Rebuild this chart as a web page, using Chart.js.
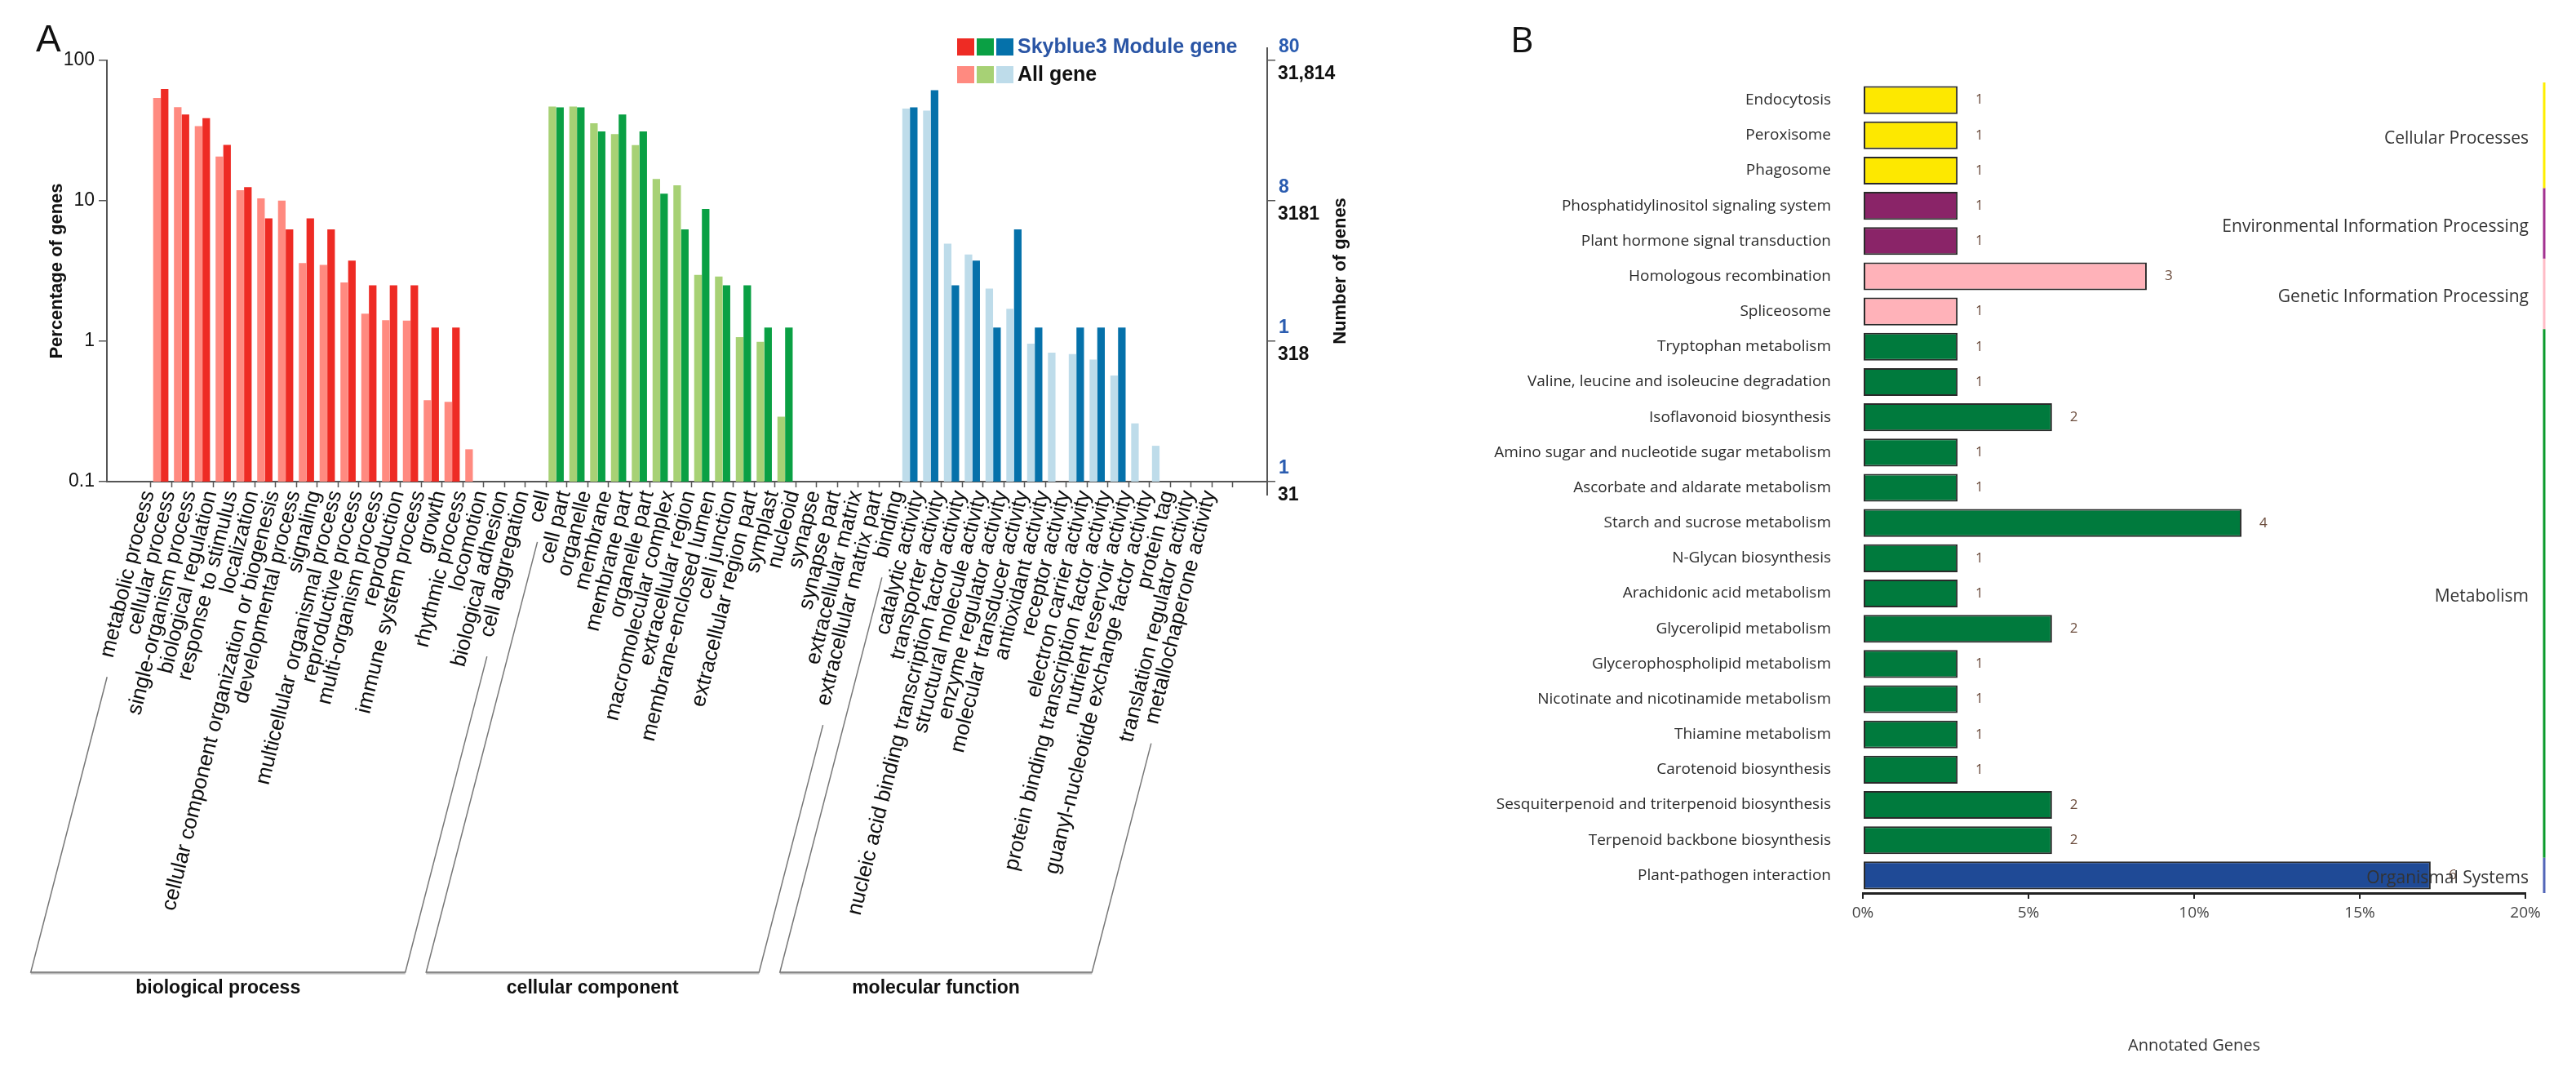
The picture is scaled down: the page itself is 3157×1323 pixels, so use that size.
<!DOCTYPE html>
<html>
<head>
<meta charset="utf-8">
<script src="https://cdn.jsdelivr.net/npm/chart.js@4.4.0/dist/chart.umd.min.js"></script>
<style>
html, body { margin: 0; padding: 0; background: #fff; }
#wrap { position: relative; width: 3157px; height: 1323px; overflow: hidden; }
#goChart { position: absolute; left: 0; top: 0; }
#keggChart { position: absolute; left: 1720px; top: 0; }
</style>
</head>
<body>
<div id="wrap">
  <canvas id="goChart" width="1720" height="1323"></canvas>
  <canvas id="keggChart" width="1437" height="1323"></canvas>
</div>
<script>
// ---- panel A : GO classification (percentage of genes, log scale) ----
var bpLabels = ['metabolic process', 'cellular process', 'single-organism process', 'biological regulation',
  'response to stimulus', 'localization', 'cellular component organization or biogenesis', 'developmental process',
  'signaling', 'multicellular organismal process', 'reproductive process', 'multi-organism process', 'reproduction',
  'immune system process', 'growth', 'rhythmic process', 'locomotion', 'biological adhesion', 'cell aggregation'];
var bpAll = [54, 46.4, 34, 20.7, 11.9, 10.4, 10.05, 3.6, 3.5, 2.62, 1.57, 1.41, 1.4, 0.38, 0.37, 0.17, null, null, null];
var bpModule = [62.5, 41.25, 38.75, 25, 12.5, 7.5, 6.25, 7.5, 6.25, 3.75, 2.5, 2.5, 2.5, 1.25, 1.25, null, null, null, null];

var ccLabels = ['cell', 'cell part', 'organelle', 'membrane', 'membrane part', 'organelle part', 'macromolecular complex',
  'extracellular region', 'membrane-enclosed lumen', 'cell junction', 'extracellular region part', 'symplast',
  'nucleoid', 'synapse', 'synapse part', 'extracellular matrix', 'extracellular matrix part'];
var ccAll = [46.9, 47, 35.7, 29.9, 24.9, 14.3, 12.9, 2.97, 2.89, 1.07, 0.99, 0.29, null, null, null, null, null];
var ccModule = [46.25, 46.25, 31.25, 41.25, 31.25, 11.25, 6.25, 8.75, 2.5, 2.5, 1.25, 1.25, null, null, null, null, null];

var mfLabels = ['binding', 'catalytic activity', 'transporter activity', 'nucleic acid binding transcription factor activity',
  'structural molecule activity', 'enzyme regulator activity', 'molecular transducer activity', 'antioxidant activity',
  'receptor activity', 'electron carrier activity', 'protein binding transcription factor activity',
  'nutrient reservoir activity', 'guanyl-nucleotide exchange factor activity', 'protein tag',
  'translation regulator activity', 'metallochaperone activity'];
var mfAll = [45.4, 43.9, 4.96, 4.15, 2.37, 1.7, 0.96, 0.83, 0.81, 0.74, 0.57, 0.26, 0.18, null, null, null];
var mfModule = [46.25, 61.25, 2.5, 3.75, 1.25, 6.25, 1.25, null, 1.25, 1.25, 1.25, null, null, null, null, null];

var goGroups = ['biological process', 'cellular component', 'molecular function'];
var percentTicks = [100, 10, 1, 0.1];
var moduleCountTicks = ['80', '8', '1', '1'];
var allCountTicks = ['31,814', '3181', '318', '31'];

// ---- panel B : KEGG pathways ----
var pathways = ['Endocytosis', 'Peroxisome', 'Phagosome', 'Phosphatidylinositol signaling system',
  'Plant hormone signal transduction', 'Homologous recombination', 'Spliceosome', 'Tryptophan metabolism',
  'Valine, leucine and isoleucine degradation', 'Isoflavonoid biosynthesis', 'Amino sugar and nucleotide sugar metabolism',
  'Ascorbate and aldarate metabolism', 'Starch and sucrose metabolism', 'N-Glycan biosynthesis',
  'Arachidonic acid metabolism', 'Glycerolipid metabolism', 'Glycerophospholipid metabolism',
  'Nicotinate and nicotinamide metabolism', 'Thiamine metabolism', 'Carotenoid biosynthesis',
  'Sesquiterpenoid and triterpenoid biosynthesis', 'Terpenoid backbone biosynthesis', 'Plant-pathogen interaction'];
var pathwayCounts = [1, 1, 1, 1, 1, 3, 1, 1, 1, 2, 1, 1, 4, 1, 1, 2, 1, 1, 1, 1, 2, 2, 6];
var pathwayPct = [2.86, 2.86, 2.86, 2.86, 2.86, 8.57, 2.86, 2.86, 2.86, 5.71, 2.86, 2.86, 11.43, 2.86, 2.86,
  5.71, 2.86, 2.86, 2.86, 2.86, 5.71, 5.71, 17.14];
var pathwayClass = ['Cellular Processes', 'Cellular Processes', 'Cellular Processes',
  'Environmental Information Processing', 'Environmental Information Processing',
  'Genetic Information Processing', 'Genetic Information Processing',
  'Metabolism', 'Metabolism', 'Metabolism', 'Metabolism', 'Metabolism', 'Metabolism', 'Metabolism', 'Metabolism',
  'Metabolism', 'Metabolism', 'Metabolism', 'Metabolism', 'Metabolism', 'Metabolism', 'Metabolism',
  'Organismal Systems'];
var pctTicks = [0, 5, 10, 15, 20];

// colours
var goDark = ['#ee2b24', '#0aa044', '#0571aa'];
var goLight = ['#ff8a80', '#a7d175', '#bedcea'];
var classFill = {
  'Cellular Processes': '#fde800',
  'Environmental Information Processing': '#8a2468',
  'Genetic Information Processing': '#ffb2b9',
  'Metabolism': '#007a3d',
  'Organismal Systems': '#1f4a96'
};
var classLine = {
  'Cellular Processes': '#ffee00',
  'Environmental Information Processing': '#a33290',
  'Genetic Information Processing': '#ffbcc6',
  'Metabolism': '#0b9a2c',
  'Organismal Systems': '#5366b8'
};

Chart.defaults.font.family = '"Liberation Sans", Arial, sans-serif';

var labelDeg = 76;
var goLabels = bpLabels.concat(ccLabels, mfLabels);
var groupSizes = [bpLabels.length, ccLabels.length, mfLabels.length];
var groupOf = goLabels.map(function (l, i) {
  return i < groupSizes[0] ? 0 : (i < groupSizes[0] + groupSizes[1] ? 1 : 2);
});
function points(arr) {
  return arr.map(function (v, i) { return { x: i, y: v }; });
}

var goDecor = {
  id: 'goDecor',
  afterDraw: function (chart) {
    var ctx = chart.ctx, area = chart.chartArea, xs = chart.scales.x, y2 = chart.scales.y2;
    ctx.save();
    ctx.fillStyle = '#111';
    ctx.textBaseline = 'middle';
    ctx.textAlign = 'left';
    ctx.font = '46px "Liberation Sans"';
    ctx.fillText('A', 44, 50);

    // tick marks between categories
    ctx.strokeStyle = '#555';
    ctx.lineWidth = 1.5;
    ctx.beginPath();
    for (var i = 0; i <= goLabels.length; i++) {
      var px = Math.round(xs.getPixelForValue(i - 0.5)) + 0.5;
      ctx.moveTo(px, area.bottom);
      ctx.lineTo(px, area.bottom + 7);
    }
    ctx.stroke();

    // legend
    for (var g = 0; g < 3; g++) {
      ctx.fillStyle = goDark[g];
      ctx.fillRect(1173 + g * 24, 47, 21, 21);
      ctx.fillStyle = goLight[g];
      ctx.fillRect(1173 + g * 24, 81, 21, 21);
    }
    ctx.font = 'bold 25px "Liberation Sans"';
    ctx.fillStyle = '#2a55a5';
    ctx.fillText('Skyblue3 Module gene', 1247, 58);
    ctx.fillStyle = '#111';
    ctx.fillText('All gene', 1247, 92);

    // right axis: module count above, all-gene count below each tick
    ctx.strokeStyle = '#555';
    ctx.lineWidth = 2;
    ctx.beginPath();
    ctx.moveTo(y2.left, area.top - 16);
    ctx.lineTo(y2.left, area.bottom + 17);
    ctx.stroke();
    ctx.font = 'bold 23px "Liberation Sans"';
    percentTicks.forEach(function (v, k) {
      var py = y2.getPixelForValue(v);
      ctx.fillStyle = '#2a5cb0';
      ctx.fillText(moduleCountTicks[k], y2.left + 14, py - 16);
      ctx.fillStyle = '#111';
      ctx.fillText(allCountTicks[k], y2.left + 13, py + 17);
    });
    ctx.save();
    ctx.translate(1643, (area.top + area.bottom) / 2);
    ctx.rotate(-Math.PI / 2);
    ctx.textAlign = 'center';
    ctx.font = 'bold 22px "Liberation Sans"';
    ctx.fillText('Number of genes', 0, 0);
    ctx.restore();

    // group brackets under the rotated labels
    var rot = labelDeg * Math.PI / 180, brk = 75.5 * Math.PI / 180;
    var top0 = area.bottom + 8, yb = area.bottom + 601;
    ctx.font = '26px "Liberation Sans"';
    function edge(idx) {
      var cx = xs.getPixelForValue(idx) - 6;
      var w = ctx.measureText(goLabels[idx]).width;
      var sy = top0 + w * Math.sin(rot) + 28;
      return {
        sx: cx - (sy - top0) / Math.tan(brk), sy: sy,
        bx: cx - (yb - top0) / Math.tan(brk)
      };
    }
    var start = 0;
    for (g = 0; g < 3; g++) {
      var L = edge(start), R = edge(start + groupSizes[g] - 1);
      ctx.strokeStyle = '#777';
      ctx.lineWidth = 1.5;
      ctx.beginPath();
      ctx.moveTo(L.sx, L.sy);
      ctx.lineTo(L.bx, yb);
      ctx.lineTo(R.bx, yb);
      ctx.lineTo(R.sx, R.sy);
      ctx.stroke();
      ctx.strokeStyle = 'rgba(120,120,120,0.5)';
      ctx.lineWidth = 3;
      ctx.beginPath();
      ctx.moveTo(L.bx, yb + 1);
      ctx.lineTo(R.bx, yb + 1);
      ctx.stroke();
      ctx.fillStyle = '#111';
      ctx.textAlign = 'center';
      ctx.font = 'bold 23px "Liberation Sans"';
      ctx.fillText(goGroups[g], (L.bx + R.bx) / 2, yb + 20);
      ctx.font = '26px "Liberation Sans"';
      ctx.textAlign = 'left';
      start += groupSizes[g];
    }
    ctx.restore();
  }
};

new Chart(document.getElementById('goChart').getContext('2d'), {
  type: 'bar',
  data: {
    datasets: [{
      label: 'All gene',
      data: points(bpAll.concat(ccAll, mfAll)),
      backgroundColor: groupOf.map(function (g) { return goLight[g]; }),
      barPercentage: 0.98,
      categoryPercentage: 0.74
    }, {
      label: 'Skyblue3 Module gene',
      data: points(bpModule.concat(ccModule, mfModule)),
      backgroundColor: groupOf.map(function (g) { return goDark[g]; }),
      barPercentage: 0.98,
      categoryPercentage: 0.74
    }]
  },
  options: {
    responsive: false,
    animation: false,
    devicePixelRatio: 1,
    layout: { padding: { left: 53, top: 74, right: 0, bottom: 0 } },
    plugins: { legend: { display: false }, tooltip: { enabled: false } },
    scales: {
      x: {
        type: 'linear',
        offset: false,
        min: -2.59,
        max: 53.17,
        afterBuildTicks: function (s) { s.ticks = goLabels.map(function (l, i) { return { value: i }; }); },
        grid: { display: false, drawTicks: false, offset: false },
        border: { color: '#555', width: 2 },
        ticks: { autoSkip: false, minRotation: labelDeg, maxRotation: labelDeg, padding: 8, labelOffset: -15,
          color: '#0d0d0d', font: { size: 26 },
          callback: function (v, i) { return goLabels[i]; } },
        afterFit: function (s) { s.height = 733; }
      },
      y: {
        type: 'logarithmic',
        position: 'left',
        min: 0.1,
        max: 100,
        afterBuildTicks: function (s) { s.ticks = percentTicks.map(function (v) { return { value: v }; }); },
        grid: { drawOnChartArea: false, tickLength: 10, color: '#555', lineWidth: 1.5 },
        border: { color: '#555', width: 2 },
        ticks: { padding: 5, color: '#111', font: { size: 23 }, callback: function (v) { return String(v); } },
        title: { display: true, text: 'Percentage of genes', color: '#111',
          font: { size: 22, weight: 'bold' }, padding: { top: 4, bottom: 4 } },
        afterFit: function (s) { s.width = 78; }
      },
      y2: {
        type: 'logarithmic',
        position: 'right',
        min: 0.1,
        max: 100,
        afterBuildTicks: function (s) { s.ticks = percentTicks.map(function (v) { return { value: v }; }); },
        grid: { drawOnChartArea: false, tickLength: 10, color: '#555', lineWidth: 1.5 },
        border: { color: '#555', width: 2 },
        ticks: { display: false },
        afterFit: function (s) { s.width = 167; }
      }
    }
  },
  plugins: [goDecor]
});

// ---- panel B ----
var classOrder = [];
pathwayClass.forEach(function (c) { if (classOrder.indexOf(c) < 0) classOrder.push(c); });

var keggDecor = {
  id: 'keggDecor',
  afterDraw: function (chart) {
    var ctx = chart.ctx, area = chart.chartArea, ys = chart.scales.y;
    ctx.save();
    ctx.textBaseline = 'middle';
    ctx.fillStyle = '#111';
    ctx.font = '44px "Open Sans"';
    ctx.textAlign = 'left';
    ctx.fillText('B', 131, 51);

    // count next to each bar
    ctx.font = '17px "Open Sans"';
    ctx.fillStyle = '#6a4b3b';
    chart.getDatasetMeta(0).data.forEach(function (bar, i) {
      ctx.fillText(String(pathwayCounts[i]), bar.x + 22, bar.y);
    });

    // class bands on the right
    var band = ys.getPixelForValue(1) - ys.getPixelForValue(0);
    classOrder.forEach(function (c) {
      var first = pathwayClass.indexOf(c), last = pathwayClass.lastIndexOf(c);
      var t = ys.getPixelForValue(first) - band / 2, b = ys.getPixelForValue(last) + band / 2;
      ctx.strokeStyle = classLine[c];
      ctx.lineWidth = 3;
      ctx.beginPath();
      ctx.moveTo(area.right + 23, t);
      ctx.lineTo(area.right + 23, b);
      ctx.stroke();
      ctx.fillStyle = '#333';
      ctx.font = '21px "Open Sans"';
      ctx.textAlign = 'right';
      ctx.fillText(c, area.right + 4, (t + b) / 2 + 4);
    });
    ctx.restore();
  }
};

new Chart(document.getElementById('keggChart').getContext('2d'), {
  type: 'bar',
  data: {
    labels: pathways,
    datasets: [{
      label: 'Annotated Genes',
      data: pathwayPct,
      backgroundColor: pathwayClass.map(function (c) { return classFill[c]; }),
      borderColor: '#2a2a2a',
      borderWidth: 2,
      borderSkipped: false,
      barPercentage: 0.79,
      categoryPercentage: 1
    }]
  },
  options: {
    indexAxis: 'y',
    responsive: false,
    animation: false,
    devicePixelRatio: 1,
    layout: { padding: { left: 0, top: 101, right: 62, bottom: 0 } },
    plugins: { legend: { display: false }, tooltip: { enabled: false } },
    scales: {
      x: {
        min: 0,
        max: 20,
        afterBuildTicks: function (s) { s.ticks = pctTicks.map(function (v) { return { value: v }; }); },
        ticks: { color: '#444', padding: 6, font: { family: '"Open Sans"', size: 19 },
          callback: function (v) { return v + '%'; } },
        grid: { drawOnChartArea: false, tickLength: 7, color: '#222', lineWidth: 2 },
        border: { color: '#222', width: 3 },
        title: { display: true, text: 'Annotated Genes', color: '#333',
          font: { family: '"Open Sans"', size: 20 }, padding: { top: 0, bottom: 30 } },
        afterFit: function (s) { s.height = 229; }
      },
      y: {
        grid: { display: false, drawTicks: false },
        border: { display: false },
        ticks: { autoSkip: false, padding: 39, color: '#2b2b2b', font: { family: '"Open Sans"', size: 19 } },
        afterFit: function (s) { s.width = 563; }
      }
    }
  },
  plugins: [keggDecor]
});
</script>
</body>
</html>
